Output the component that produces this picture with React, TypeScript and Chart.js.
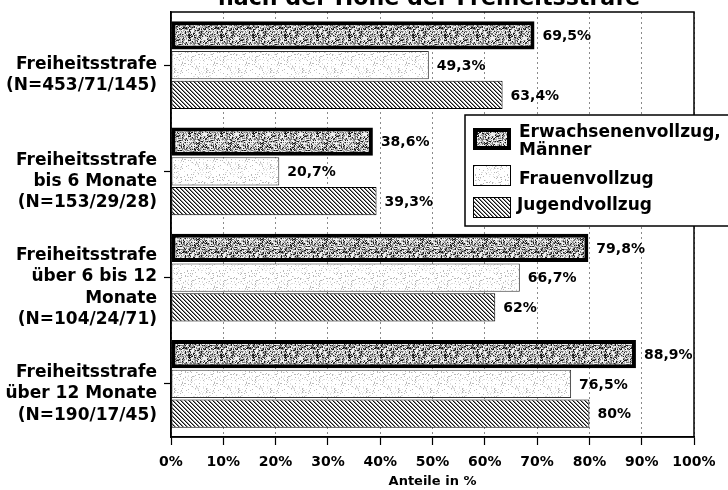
import React, { useEffect, useRef } from 'react';
import { Chart, registerables } from 'chart.js';

Chart.register(...registerables);

const chartTitle = 'nach der Höhe der Freiheitsstrafe';
const axisTitle = 'Anteile in %';
const categories: string[][] = [
  ['Freiheitsstrafe', '(N=453/71/145)'],
  ['Freiheitsstrafe', 'bis 6 Monate', '(N=153/29/28)'],
  ['Freiheitsstrafe', 'über 6 bis 12', 'Monate', '(N=104/24/71)'],
  ['Freiheitsstrafe', 'über 12 Monate', '(N=190/17/45)'],
];
const seriesNames = ['Erwachsenenvollzug, Männer', 'Frauenvollzug', 'Jugendvollzug'];
const legendLines: string[][] = [['Erwachsenenvollzug,', 'Männer'], ['Frauenvollzug'], ['Jugendvollzug']];
const erwachsenen = [69.5, 38.6, 79.8, 88.9];
const frauen = [49.3, 20.7, 66.7, 76.5];
const jugend = [63.4, 39.3, 62, 80];
const xMin = 0;
const xMax = 100;
const xStep = 10;

const FONT = '"DejaVu Sans", "Liberation Sans", sans-serif';

function hash(x: number, y: number, s: number) {
  let h = (x * 374761393 + y * 668265263 + s * 982451653) | 0;
  h = Math.imul(h ^ (h >>> 13), 1274126177);
  h = h ^ (h >>> 16);
  return (h >>> 0) / 4294967296;
}

function makeTile(size: number, paint: (c: CanvasRenderingContext2D) => void) {
  const cv = document.createElement('canvas');
  cv.width = size;
  cv.height = size;
  const c = cv.getContext('2d')!;
  paint(c);
  return cv;
}

function makePatterns(ctx: CanvasRenderingContext2D) {
  const dark = makeTile(32, (c) => {
    for (let y = 0; y < 32; y++)
      for (let x = 0; x < 32; x++) {
        const r = hash(x, y, 1);
        c.fillStyle = r < 0.18 ? '#1a1a1a' : r < 0.4 ? '#777' : r < 0.65 ? '#b4b4b4' : '#f0f0f0';
        c.fillRect(x, y, 1, 1);
      }
  });
  const light = makeTile(32, (c) => {
    c.fillStyle = '#ffffff';
    c.fillRect(0, 0, 32, 32);
    for (let y = 0; y < 32; y++)
      for (let x = 0; x < 32; x++) {
        const r = hash(x, y, 2);
        if (r < 0.08) {
          c.fillStyle = '#b8b8b8';
          c.fillRect(x, y, 1, 1);
        } else if (r < 0.16) {
          c.fillStyle = '#e0e0e0';
          c.fillRect(x, y, 1, 1);
        }
      }
  });
  const hatch = makeTile(4, (c) => {
    c.fillStyle = '#ffffff';
    c.fillRect(0, 0, 4, 4);
    for (let i = 0; i < 4; i++) {
      c.fillStyle = '#111';
      c.fillRect(i, i, 1, 1);
      c.fillStyle = '#888';
      c.fillRect((i + 1) % 4, i, 1, 1);
    }
  });
  return {
    dark: ctx.createPattern(dark, 'repeat')!,
    light: ctx.createPattern(light, 'repeat')!,
    hatch: ctx.createPattern(hatch, 'repeat')!,
  };
}

export default function App() {
  const ref = useRef<HTMLCanvasElement | null>(null);

  useEffect(() => {
    const canvas = ref.current!;
    const ctx0 = canvas.getContext('2d')!;
    const pats = makePatterns(ctx0);

    const titlePlugin = {
      id: 'topTitle',
      afterDraw(chart: any) {
        const ctx = chart.ctx as CanvasRenderingContext2D;
        ctx.save();
        ctx.font = `bold 20px ${FONT}`;
        const w = ctx.measureText(chartTitle).width;
        const size = (20 * 422) / w;
        ctx.font = `bold ${size}px ${FONT}`;
        ctx.fillStyle = '#000';
        ctx.textAlign = 'center';
        ctx.textBaseline = 'alphabetic';
        ctx.fillText(chartTitle, 429, 5);
        ctx.restore();
      },
    };

    const framePlugin = {
      id: 'frame',
      afterDatasetsDraw(chart: any) {
        const { left, right, top, bottom } = chart.chartArea;
        const ctx = chart.ctx as CanvasRenderingContext2D;
        ctx.save();
        ctx.strokeStyle = '#000';
        ctx.lineWidth = 1.5;
        ctx.strokeRect(left, top, right - left, bottom - top);
        // value labels
        ctx.font = `bold 14px ${FONT}`;
        ctx.fillStyle = '#000';
        ctx.textBaseline = 'middle';
        ctx.textAlign = 'left';
        chart.data.datasets.forEach((ds: any, di: number) => {
          chart.getDatasetMeta(di).data.forEach((bar: any, i: number) => {
            const v = ds.data[i] as number;
            const txt = String(v).replace('.', ',') + '%';
            ctx.fillText(txt, bar.x + 8, bar.y + 1);
          });
        });
        ctx.restore();
      },
    };

    const legendPlugin = {
      id: 'customLegend',
      afterDraw(chart: any) {
        const ctx = chart.ctx as CanvasRenderingContext2D;
        ctx.save();
        const bx = 465, by = 115, bw = 300, bh = 111;
        ctx.fillStyle = '#fff';
        ctx.fillRect(bx, by, bw, bh);
        ctx.strokeStyle = '#000';
        ctx.lineWidth = 1.5;
        ctx.strokeRect(bx, by, bw, bh);
        const sw = [
          { y: 128, h: 22, fill: pats.dark, border: 4 },
          { y: 165, h: 21, fill: pats.light, border: 1 },
          { y: 197, h: 21, fill: pats.hatch, border: 1 },
        ];
        sw.forEach((s) => {
          ctx.fillStyle = '#000';
          ctx.fillRect(473, s.y, 38, s.h);
          ctx.fillStyle = s.fill;
          ctx.fillRect(473 + s.border, s.y + s.border, 38 - 2 * s.border, s.h - 2 * s.border);
        });
        ctx.fillStyle = '#000';
        ctx.font = `bold 17px ${FONT}`;
        ctx.textAlign = 'left';
        ctx.textBaseline = 'alphabetic';
        const baselines = [[137, 155], [184], [210]];
        legendLines.forEach((lines, i) => {
          lines.forEach((t, j) => ctx.fillText(t, i === 2 ? 517 : 519, baselines[i][j]));
        });
        ctx.restore();
      },
    };

    const chart = new Chart(canvas, {
      type: 'bar',
      data: {
        labels: categories,
        datasets: [
          {
            label: seriesNames[0],
            data: erwachsenen,
            backgroundColor: pats.dark,
            borderColor: '#000',
            borderWidth: 4,
            borderSkipped: false,
          },
          {
            label: seriesNames[1],
            data: frauen,
            backgroundColor: pats.light,
            borderColor: '#333',
            borderWidth: 1,
            borderSkipped: false,
          },
          {
            label: seriesNames[2],
            data: jugend,
            backgroundColor: pats.hatch,
            borderColor: '#000',
            borderWidth: 1,
            borderSkipped: false,
          },
        ],
      },
      options: {
        indexAxis: 'y',
        responsive: false,
        animation: false,
        devicePixelRatio: 1,
        layout: { padding: { top: 12, right: 34, left: 0, bottom: 0 } },
        datasets: {
          bar: { categoryPercentage: 0.84, barPercentage: 0.95 },
        },
        plugins: {
          legend: { display: false },
          title: { display: false },
          tooltip: { enabled: false },
        },
        scales: {
          x: {
            type: 'linear',
            min: xMin,
            max: xMax,
            afterFit: (s: any) => {
              s.height = 53;
            },
            ticks: {
              stepSize: xStep,
              color: '#000',
              font: { family: FONT, size: 14, weight: 'bold' },
              padding: 9,
              callback: (v: any) => `${v}%`,
            },
            grid: {
              color: '#8a8a8a',
              lineWidth: 1,
              tickColor: '#000',
              tickLength: 8,
              tickWidth: 1.2,
              tickBorderDash: [],
            },
            border: { display: true, color: '#000', width: 1.5, dash: [2, 3] },
            title: {
              display: true,
              text: axisTitle,
              color: '#000',
              font: { family: FONT, size: 13, weight: 'bold' },
              padding: { top: 0, bottom: 1 },
            },
          },
          y: {
            type: 'category',
            afterFit: (s: any) => {
              s.width = 171;
              s.paddingTop = 0;
              s.paddingBottom = 0;
            },
            ticks: {
              color: '#000',
              font: { family: FONT, size: 17, weight: 'bold', lineHeight: 1.25 },
              padding: 7,
              labelOffset: 10,
              autoSkip: false,
            },
            grid: {
              offset: false,
              drawOnChartArea: false,
              drawTicks: true,
              tickLength: 7,
              tickColor: '#000',
              tickWidth: 1.2,
            },
            border: { display: true, color: '#000', width: 1.5 },
          },
        },
      },
      plugins: [framePlugin, legendPlugin, titlePlugin],
    } as any);

    return () => chart.destroy();
  }, []);

  return (
    <div style={{ position: 'fixed', left: 0, top: 0, width: 728, height: 490, background: '#fff' }}>
      <canvas ref={ref} width={728} height={490} style={{ display: 'block', width: 728, height: 490 }} />
    </div>
  );
}
